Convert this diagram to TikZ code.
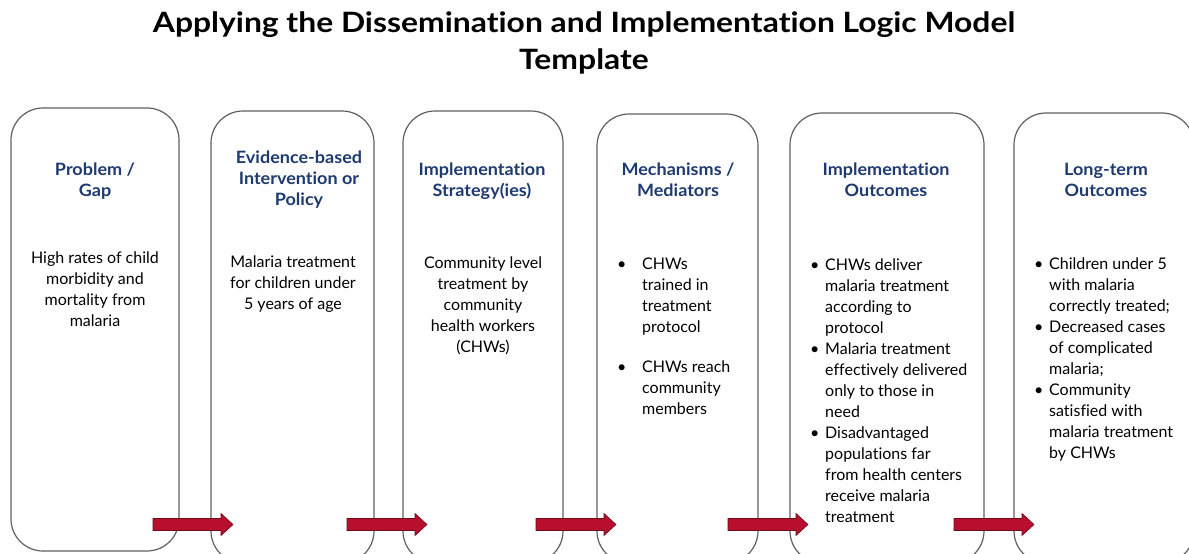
\documentclass[tikz,border=0pt]{standalone}
\usepackage{fontspec}
\setmainfont{Lato}[Ligatures={NoCommon}]
\definecolor{headblue}{HTML}{1F3A70}
\definecolor{arrowred}{HTML}{B80F2E}
\definecolor{arrowedge}{HTML}{6A0A1A}
\definecolor{boxline}{HTML}{606060}
\newcommand{\fs}{\rule{0pt}{14pt}}
\newcommand{\tfs}{\rule{0pt}{24pt}}
\newcommand{\tx}[1]{\scalebox{1.137}[1]{#1}}
\newcommand{\hx}[1]{\scalebox{1.06}[1]{#1}}
\newcommand{\bulA}{\makebox[25pt][l]{•}}
\newcommand{\indA}{\hspace*{25pt}}
\newcommand{\bulB}{\makebox[15pt][l]{•}}
\newcommand{\indB}{\hspace*{15pt}}
\begin{document}
\begin{tikzpicture}[x=1pt,y=-1pt,
  box/.style={draw=boxline, line width=1.2pt, rounded corners=32pt, inner sep=0pt},
  head/.style={text=headblue, font=\bfseries\fontsize{17}{21}\selectfont, align=center, anchor=north, inner sep=0pt},
  body/.style={font=\fontsize{16}{21}\selectfont, align=center, anchor=north, inner sep=0pt},
  blist/.style={font=\fontsize{16}{21}\selectfont, align=left, anchor=north west, inner sep=0pt},
  redarrow/.style={fill=arrowred, draw=arrowedge, line width=0.6pt},
  title/.style={font=\bfseries\fontsize{28}{37}\selectfont, align=center, anchor=north, inner sep=0pt}]
\useasboundingbox (0,0) rectangle (1189,554);
\clip (0,0) rectangle (1189,554);
\fill[white] (0,0) rectangle (1189,554);

\node[title] (ttl) at (584,8) {\tfs\tx{Applying the Dissemination and Implementation Logic Model}\\\tx{Template}};

\node[box, minimum width=168pt, minimum height=443pt] (b1) at (95,329.5) {};
\node[box, minimum width=163pt, minimum height=452pt] (b2) at (292.5,337) {};
\node[box, minimum width=160pt, minimum height=452pt] (b3) at (483,337) {};
\node[box, minimum width=161pt, minimum height=449pt] (b4) at (677.5,338.5) {};
\node[box, minimum width=194pt, minimum height=450pt] (b5) at (887,338) {};
\node[box, minimum width=180pt, minimum height=450pt] (b6) at (1104,338) {};

\node[head] (h1) at (95,161) {\fs\hx{Problem /}\\\hx{Gap}};
\node[head] (h2) at (299,149) {\fs\hx{Evidence-based}\\\hx{Intervention or}\\\hx{Policy}};
\node[head] (h3) at (482,161) {\fs\hx{Implementation}\\\hx{Strategy(ies)}};
\node[head] (h4) at (678,161) {\fs\hx{Mechanisms /}\\\hx{Mediators}};
\node[head] (h5) at (886,161) {\fs\hx{Implementation}\\\hx{Outcomes}};
\node[head] (h6) at (1106,161) {\fs\hx{Long-term}\\\hx{Outcomes}};

\node[body] (t1) at (95,249) {\fs High rates of child\\morbidity and\\mortality from\\malaria};
\node[body] (t2) at (293,253) {\fs Malaria treatment\\for children under\\5 years of age};
\node[body] (t3) at (483,254) {\fs Community level\\treatment by\\community\\health workers\\(CHWs)};
\node[blist] (t4) at (617,255) {\fs\bulA CHWs\\\indA trained in\\\indA treatment\\\indA protocol\\[19pt]\bulA CHWs reach\\\indA community\\\indA members};
\node[blist] (t5) at (810,256) {\fs\bulB CHWs deliver\\\indB malaria treatment\\\indB according to\\\indB protocol\\\bulB Malaria treatment\\\indB effectively delivered\\\indB only to those in\\\indB need\\\bulB Disadvantaged\\\indB populations far\\\indB from health centers\\\indB receive malaria\\\indB treatment};
\node[blist] (t6) at (1034,255) {\fs\bulB Children under 5\\\indB with malaria\\\indB correctly treated;\\\bulB Decreased cases\\\indB of complicated\\\indB malaria;\\\bulB Community\\\indB satisfied with\\\indB malaria treatment\\\indB by CHWs};

\coordinate (a1) at (153,524.5);
\coordinate (a2) at (347,524.5);
\coordinate (a3) at (536,524.5);
\coordinate (a4) at (728,524.5);
\coordinate (a5) at (954,524.5);
\foreach \a in {a1,a2,a3,a4,a5}{
  \draw[redarrow] (\a) ++(0,-6) -- ++(68,0) -- ++(0,-5) -- ++(12,11) -- ++(-12,11) -- ++(0,-5) -- ++(-68,0) -- cycle;
}
\end{tikzpicture}
\end{document}
